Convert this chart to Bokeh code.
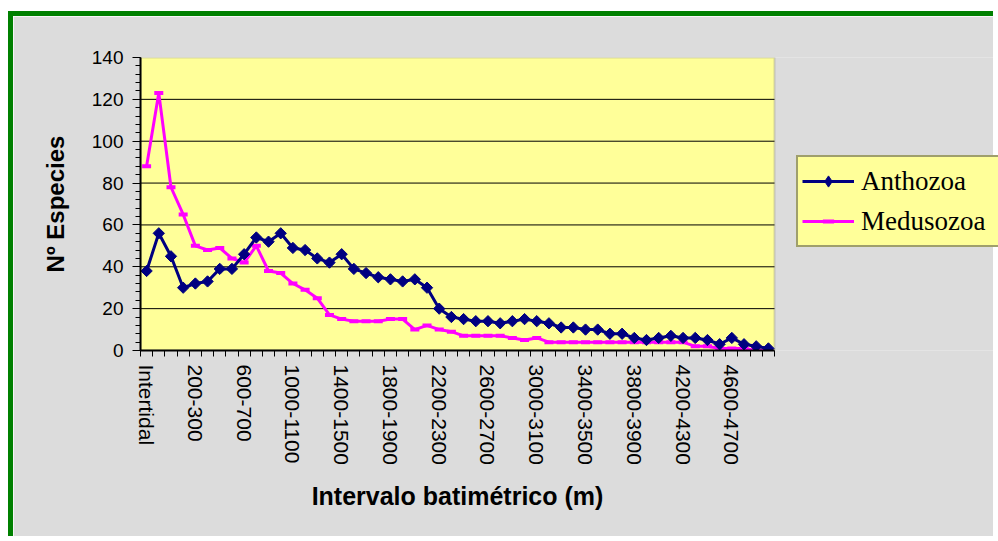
import numpy as np
from bokeh.plotting import figure
from bokeh.models import (Range1d, FixedTicker, SingleIntervalTicker, Legend,
                          LegendItem, ColumnDataSource, BoxAnnotation, Title)
from bokeh.embed import file_html
from bokeh.resources import INLINE

# ---------------- data ----------------
categories = [
    "Intertidal", "0-50", "50-100", "100-200", "200-300", "300-400", "400-500",
    "500-600", "600-700", "700-800", "800-900", "900-1000", "1000-1100",
    "1100-1200", "1200-1300", "1300-1400", "1400-1500", "1500-1600",
    "1600-1700", "1700-1800", "1800-1900", "1900-2000", "2000-2100",
    "2100-2200", "2200-2300", "2300-2400", "2400-2500", "2500-2600",
    "2600-2700", "2700-2800", "2800-2900", "2900-3000", "3000-3100",
    "3100-3200", "3200-3300", "3300-3400", "3400-3500", "3500-3600",
    "3600-3700", "3700-3800", "3800-3900", "3900-4000", "4000-4100",
    "4100-4200", "4200-4300", "4300-4400", "4400-4500", "4500-4600",
    "4600-4700", "4700-4800", "4800-4900", "4900-5000",
]
anthozoa = [38, 56, 45, 30, 32, 33, 39, 39, 46, 54,
            52, 56, 49, 48, 44, 42, 46, 39, 37, 35,
            34, 33, 34, 30, 20, 16, 15, 14, 14, 13,
            14, 15, 14, 13, 11, 11, 10, 10, 8, 8,
            6, 5, 6, 7, 6, 6, 5, 3, 6, 3,
            2, 1]
medusozoa = [88, 123, 78, 65, 50, 48, 49, 44, 42, 50,
             38, 37, 32, 29, 25, 17, 15, 14, 14, 14,
             15, 15, 10, 12, 10, 9, 7, 7, 7, 7,
             6, 5, 6, 4, 4, 4, 4, 4, 4, 4,
             4, 4, 4, 4, 4, 2, 2, 1, 1, 1,
             0, 0]
series_names = ["Anthozoa", "Medusozoa"]
x_title = "Intervalo batimétrico (m)"
y_title = "Nº Especies"
y_max = 140
y_ticks_step = 20
label_every = 4

n = len(categories)
idx = list(range(n))
src = ColumnDataSource(dict(x=idx, a=anthozoa, m=medusozoa))

# layout (pixels)
W, H = 985, 525
left_b, top_b, bottom_b = 127, 41, 191
plot_w = 634                       # width of the yellow plot area
frame_w = W - left_b               # frame runs to the right edge (legend lives there)
x_lo, x_hi_cat = -0.5, n - 0.5
x_hi = x_lo + n * frame_w / plot_w

p = figure(width=W, height=H, output_backend="svg", toolbar_location=None,
           x_range=Range1d(x_lo, x_hi), y_range=Range1d(0, y_max),
           min_border_left=left_b, min_border_top=top_b, min_border_right=0,
           min_border_bottom=bottom_b)
p.styles = {"margin-top": "11px", "margin-left": "8px",
            "border-left": "5px solid #008000",
            "border-top": "5px solid #008000"}

bg = "#dcdcdc"
p.background_fill_color = bg
p.border_fill_color = bg
p.outline_line_color = None

# yellow plot area
p.add_layout(BoxAnnotation(left=x_lo, right=x_hi_cat, bottom=0, top=y_max,
                           fill_color="#FFFF99", fill_alpha=1,
                           line_color="#808080", line_width=2, level="underlay"))

# horizontal gridlines limited to the plot area
grid_y = list(range(y_ticks_step, y_max, y_ticks_step))
p.segment(x0=[x_lo] * len(grid_y), x1=[x_hi_cat] * len(grid_y), y0=grid_y, y1=grid_y,
          line_color="black", line_width=1)
p.xgrid.visible = False
p.ygrid.visible = False

# axes
xa = p.xaxis[0]
xa.bounds = (x_lo, x_hi_cat)
xa.ticker = FixedTicker(ticks=idx[::label_every],
                        minor_ticks=[i - 0.5 for i in range(n + 1)])
xa.major_label_overrides = {i: categories[i] for i in idx[::label_every]}
xa.major_label_orientation = "vertical"
xa.major_tick_line_color = None
xa.major_tick_out = 0
xa.major_tick_in = 0
xa.minor_tick_out = 6
xa.minor_tick_in = 0
xa.minor_tick_line_color = "black"
xa.axis_line_color = "black"
xa.axis_line_width = 2
xa.major_label_standoff = 8
xa.major_label_text_font = "Liberation Sans"
xa.major_label_text_font_size = "21px"
xa.major_label_text_color = "black"

# x-axis title centred under the plot area (not the whole frame)
title_px = 25
title_w = 11.67 * title_px
p.add_layout(Title(text=x_title, align="left", offset=(plot_w - title_w) / 2,
                   text_font="Liberation Sans", text_font_style="bold",
                   text_font_size=f"{title_px}px", text_color="black",
                   standoff=24), "below")

ya = p.yaxis[0]
ya.ticker = SingleIntervalTicker(interval=y_ticks_step, num_minor_ticks=5)
ya.major_tick_out = 8
ya.major_tick_in = 0
ya.minor_tick_out = 5
ya.minor_tick_in = 0
ya.major_tick_line_color = "black"
ya.minor_tick_line_color = "black"
ya.axis_line_color = "black"
ya.axis_line_width = 2
ya.major_label_standoff = 9
ya.major_label_text_font = "Liberation Sans"
ya.major_label_text_font_size = "19px"
ya.major_label_text_color = "black"
ya.axis_label = y_title
ya.axis_label_text_font = "Liberation Sans"
ya.axis_label_text_font_style = "bold"
ya.axis_label_text_font_size = "24px"
ya.axis_label_text_color = "black"
ya.axis_label_standoff = 20

# series
navy = "#000080"
mag = "#FF00FF"
m_line = p.line("x", "m", source=src, line_color=mag, line_width=3)
m_mark = p.scatter("x", "m", source=src, marker="dash", size=9, line_width=4,
                   line_color=mag)
a_line = p.line("x", "a", source=src, line_color=navy, line_width=3)
a_mark = p.scatter("x", "a", source=src, marker="square", angle=np.pi / 4,
                   size=8, fill_color=navy, line_color=navy)
# legend key only (one row with no y value, so nothing is drawn in the plot)
key_src = ColumnDataSource(dict(x=[idx[0]], y=[float("nan")]))
a_key = p.scatter("x", "y", source=key_src, marker="diamond",
                  fill_color=navy, line_color=navy)

legend = Legend(items=[LegendItem(label=series_names[0], renderers=[a_line, a_key]),
                       LegendItem(label=series_names[1], renderers=[m_line, m_mark])],
                location=(656, 103))
legend.background_fill_color = "#FFFF99"
legend.background_fill_alpha = 1
legend.border_line_color = "#404040"
legend.border_line_width = 2
legend.padding = 4
legend.spacing = 0
legend.margin = 0
legend.glyph_width = 52
legend.glyph_height = 28
legend.label_height = 40
legend.label_width = 140
legend.label_standoff = 7
legend.label_text_font = "Liberation Serif"
legend.label_text_font_size = "27px"
legend.label_text_color = "black"
p.add_layout(legend, "center")

open("out.html", "w").write(file_html(p, INLINE))
